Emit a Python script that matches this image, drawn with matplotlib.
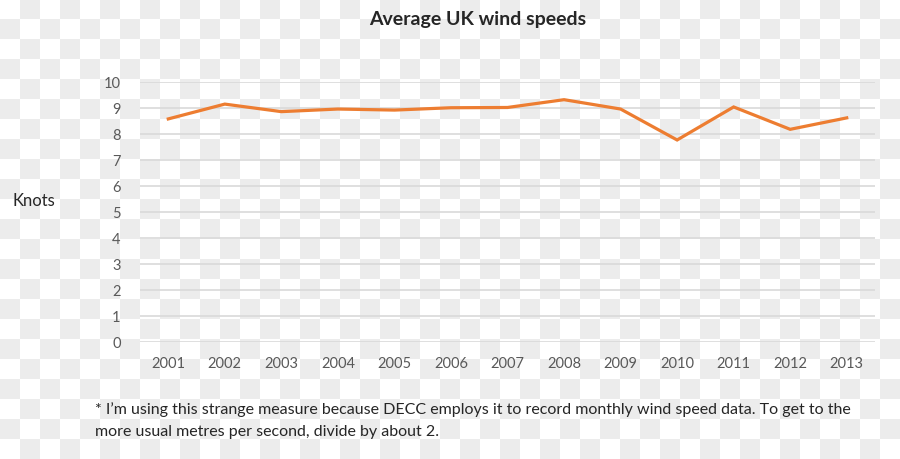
import numpy as np
import matplotlib.pyplot as plt

years = ['2001', '2002', '2003', '2004', '2005', '2006', '2007',
         '2008', '2009', '2010', '2011', '2012', '2013']
knots = [8.58, 9.15, 8.86, 8.96, 8.92, 9.01, 9.02,
         9.32, 8.96, 7.77, 9.04, 8.18, 8.62]
yticks = list(range(0, 11))

plt.rcParams['font.family'] = ['Lato', 'DejaVu Sans']

fig = plt.figure(figsize=(9, 4.6), dpi=100)
fig.patch.set_alpha(0)

# checkerboard background (transparency pattern in the source image)
yy, xx = np.mgrid[0:460, 0:900]
board = np.where(((xx // 20) + (yy // 20)) % 2 == 1, 0.925, 1.0)
fig.figimage(board, xo=0, yo=0, origin='upper', cmap='gray', vmin=0, vmax=1, zorder=-10)

ax = fig.add_axes([140 / 900, 1 - 343 / 460, 735 / 900, 260 / 460])
ax.set_facecolor('none')

x = np.arange(len(years))
ax.plot(x, knots, color='#ED7D31', linewidth=2.3, solid_joinstyle='miter')

ax.set_xlim(-0.5, len(years) - 0.5)
ax.set_ylim(0, 10)
ax.set_yticks(yticks)
ax.set_xticks(x)
ax.set_xticklabels(years)
ax.grid(axis='y', color='#d9d9d9', linewidth=1.2)
ax.set_axisbelow(True)
for s in ax.spines.values():
    s.set_visible(False)
ax.tick_params(length=0, labelsize=10.5, labelcolor='#595959')
ax.tick_params(axis='x', pad=10)
ax.tick_params(axis='y', pad=14)

fig.text(478 / 900, 1 - 20 / 460, 'Average UK wind speeds', ha='center', va='center',
         fontsize=14, fontweight='bold', color='#262626')
fig.text(12 / 900, 1 - 201 / 460, 'Knots', ha='left', va='center', fontsize=12, color='#262626')
fig.text(95 / 900, 1 - 410 / 460,
         '* I\u2019m using this strange measure because DECC employs it to record monthly wind speed data. To get to the',
         ha='left', va='center', fontsize=11.5, color='#262626')
fig.text(95 / 900, 1 - 432 / 460, 'more usual metres per second, divide by about 2.',
         ha='left', va='center', fontsize=11.5, color='#262626')

fig.savefig('out.png', dpi=100)
